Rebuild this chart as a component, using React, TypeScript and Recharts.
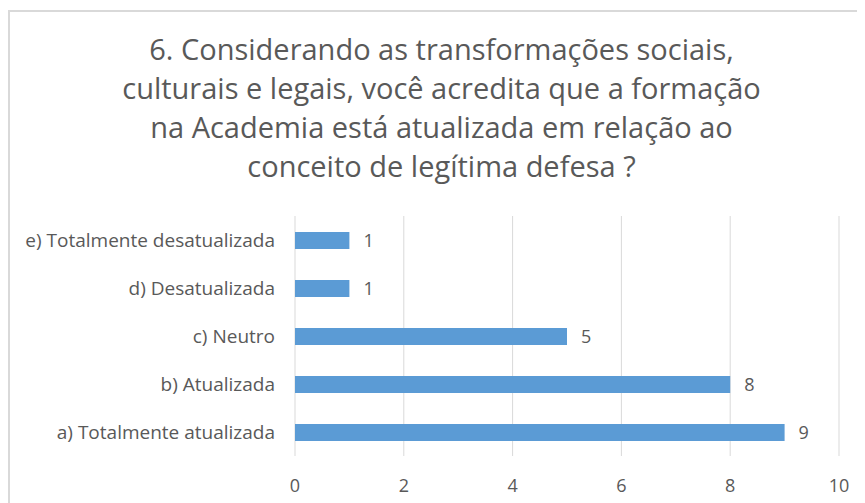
import { BarChart, Bar, XAxis, YAxis, CartesianGrid, LabelList } from "recharts"

const categories = [
  "e) Totalmente desatualizada",
  "d) Desatualizada",
  "c) Neutro",
  "b) Atualizada",
  "a) Totalmente atualizada",
]
const counts = [1, 1, 5, 8, 9]
const xTicks = [0, 2, 4, 6, 8, 10]
const titleLines = [
  "6. Considerando as transformações sociais,",
  "culturais e legais, você acredita que a formação",
  "na Academia está atualizada em relação ao",
  "conceito de legítima defesa ?",
]

const data = categories.map((name, i) => ({ name, value: counts[i] }))

const FONT = "'Open Sans', Lato, sans-serif"
const GRAY = "#595959"

export default function App() {
  return (
    <div style={{ position: "relative", width: 857, height: 495, fontFamily: FONT, overflow: "hidden" }}>
      <div
        style={{
          position: "absolute",
          left: 0,
          top: 2,
          width: 900,
          height: 600,
          borderLeft: "2px solid #d9d9d9",
          borderTop: "2px solid #d9d9d9",
        }}
      />
      <div
        style={{
          position: "absolute",
          left: 0,
          top: 21,
          width: 867,
          textAlign: "center",
          color: GRAY,
          fontSize: 29,
          lineHeight: "39px",
        }}
      >
        {titleLines.map((t) => (
          <div key={t}>{t}</div>
        ))}
      </div>
      <BarChart
        width={857}
        height={495}
        data={data}
        layout="vertical"
        margin={{ top: 208, right: 26, bottom: 7, left: 0 }}
        style={{ position: "absolute", left: 0, top: 0 }}
      >
        <CartesianGrid horizontal={false} stroke="#d9d9d9" />
        <XAxis
          type="number"
          domain={[0, 10]}
          ticks={xTicks}
          axisLine={false}
          tickLine={false}
          tickMargin={17}
          height={40}
          tick={{ fill: GRAY, fontSize: 18, fontFamily: FONT }}
        />
        <YAxis
          type="category"
          dataKey="name"
          width={287}
          axisLine={false}
          tickLine={false}
          tickSize={0}
          tickMargin={20}
          tick={{ fill: GRAY, fontSize: 19, fontFamily: FONT }}
        />
        <Bar dataKey="value" fill="#5b9bd5" barSize={17} isAnimationActive={false}>
          <LabelList dataKey="value" position="right" offset={14} fill={GRAY} fontSize={18} fontFamily={FONT} />
        </Bar>
      </BarChart>
    </div>
  )
}
